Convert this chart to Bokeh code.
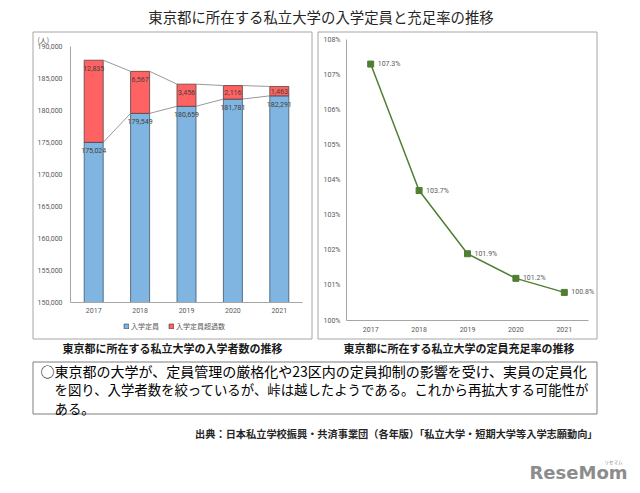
from bokeh.plotting import figure
from bokeh.models import (Range1d, FixedTicker, Legend, LegendItem, ColumnDataSource,
                          GridBox, NumeralTickFormatter, PrintfTickFormatter)
from bokeh.core.properties import value
from bokeh.embed import file_html
from bokeh.resources import INLINE

# ---------------- data ----------------
years = [2017, 2018, 2019, 2020, 2021]
capacity = [175024, 179549, 180659, 181781, 182291]   # 入学定員
excess = [12835, 6567, 3456, 2116, 1463]              # 入学定員超過数
fill_rate = [107.3, 103.7, 101.9, 101.2, 100.8]       # 定員充足率 (%)
left_ticks = [150000, 155000, 160000, 165000, 170000, 175000, 180000, 185000, 190000]
right_ticks = [100, 101, 102, 103, 104, 105, 106, 107, 108]
legend_labels = ["入学定員", "入学定員超過数"]
unit_label = "(人)"

title_text = "東京都に所在する私立大学の入学定員と充足率の推移"
caption_left = "東京都に所在する私立大学の入学者数の推移"
caption_right = "東京都に所在する私立大学の定員充足率の推移"
note_lines = ["○東京都の大学が、定員管理の厳格化や23区内の定員抑制の影響を受け、実員の定員化",
              "を図り、入学者数を絞っているが、峠は越したようである。これから再拡大する可能性が",
              "ある。"]
source_text = "出典：日本私立学校振興・共済事業団（各年版）「私立大学・短期大学等入学志願動向」"
logo_text = "ReseMom"
logo_kana = "リセマム"

JP = "Noto Sans CJK JP"
NUM = "Roboto"
GRAY = "#595959"
BLUE, BLUE_EDGE = "#7fb5e0", "#3e556b"
RED, RED_EDGE = "#ff6262", "#5a4040"


def style_axes(p, tick_out_y, standoff_y, tick_out_x, standoff_x):
    p.xgrid.grid_line_color = None
    p.ygrid.grid_line_color = None
    for ax in (p.xaxis, p.yaxis):
        ax.major_tick_line_color = None
        ax.minor_tick_line_color = None
        ax.axis_line_color = "#a6a6a6"
        ax.major_label_text_font_size = "7px"
        ax.major_label_text_color = GRAY
        ax.major_label_text_font = NUM
    p.yaxis.major_tick_out = tick_out_y
    p.yaxis.major_label_standoff = standoff_y
    p.xaxis.major_tick_out = tick_out_x
    p.xaxis.major_label_standoff = standoff_x


totals = [c + e for c, e in zip(capacity, excess)]
BW = 0.41
Y0, Y1 = 150000, 190000
FRAME_H = 256
upp = (Y1 - Y0) / FRAME_H
red_label_y = [max(t - 8.5 * upp, (t + c) / 2) for t, c in zip(totals, capacity)]
blue_label_y = [c - 8.5 * upp for c in capacity]

src = ColumnDataSource(dict(
    year=years, cap=capacity, total=totals,
    cap_label=[f"{v:,}" for v in capacity],
    ex_label=[f"{v:,}" for v in excess],
    red_y=red_label_y, blue_y=blue_label_y,
))

# ---------------- background page (title, boxes, captions, note, legend) ----------------
pBG = figure(width=640, height=493, x_range=Range1d(0, 640), y_range=Range1d(493, 0),
             x_axis_type=None, y_axis_type=None, min_border=0, toolbar_location=None,
             output_backend="svg", tools="", outline_line_color=None, title=None)
pBG.grid.visible = False
pBG.text(x=[320.5], y=[16], text=[title_text], text_align="center", text_baseline="middle",
         text_font_size="14.4px", text_color="#262626", text_font=value(JP))
pBG.quad(left=[32.5, 317.5], right=[311.5, 596.5], top=[31.5, 31.5], bottom=[338.5, 338.5],
         fill_color=None, line_color="#a6a6a6", line_width=1)
pBG.text(x=[37], y=[39], text=[unit_label], text_align="left", text_baseline="middle",
         text_font_size="7px", text_color=GRAY, text_font=value(JP))
pBG.text(x=[172, 458.5], y=[347, 347], text=[caption_left, caption_right],
         text_align="center", text_baseline="middle", text_font_size="11px",
         text_font_style="bold", text_color="#1a1a1a", text_font=value(JP))
pBG.quad(left=[32.5], right=[596.5], top=[361.5], bottom=[413.5], fill_color=None,
         line_color="#7f7f7f", line_width=1)
note_src = ColumnDataSource(dict(x=[40, 54, 54], y=[370, 388.5, 407], text=note_lines,
                                 size=["14px", "13.4px", "13.4px"]))
pBG.text(x="x", y="y", text="text", text_font_size="size", source=note_src,
         text_align="left", text_baseline="middle",
         text_color="#000000", text_font=value(JP))
pBG.text(x=[597], y=[433], text=[source_text], text_align="right", text_baseline="middle",
         text_font_size="10.2px", text_font_style="bold", text_color="#262626", text_font=value(JP))
pBG.text(x=[627], y=[472], text=[logo_text], text_align="right", text_baseline="middle",
         text_font_size="18px", text_font_style="bold", text_color="#8c8c8c",
         text_font=value("DejaVu Sans"))
pBG.text(x=[613], y=[461], text=[logo_kana], text_align="center", text_baseline="middle",
         text_font_size="4.5px", text_color="#8c8c8c", text_font=value(JP))

# legend swatches: bar renderers styled like the chart bars (their data lie outside this page's range)
lg_blue = pBG.vbar(x="year", top="cap", bottom=Y0, width=BW, source=src,
                   fill_color=BLUE, line_color=BLUE_EDGE, line_width=0.8)
lg_red = pBG.vbar(x="year", top="total", bottom="cap", width=BW, source=src,
                  fill_color=RED, line_color=RED_EDGE, line_width=0.8)
legend = Legend(items=[LegendItem(label=legend_labels[0], renderers=[lg_blue]),
                       LegendItem(label=legend_labels[1], renderers=[lg_red])],
                orientation="horizontal", location=(123, 162),
                glyph_width=6, glyph_height=6, label_height=8, label_standoff=2,
                spacing=9, padding=0, margin=0,
                label_text_font_size="7px", label_text_color=GRAY, label_text_font=JP,
                border_line_color=None, background_fill_alpha=0)
pBG.add_layout(legend)

# ---------------- left chart ----------------
pL = figure(frame_width=232, frame_height=FRAME_H, title=None,
            x_range=Range1d(2016.5, 2021.5), y_range=Range1d(Y0, Y1),
            toolbar_location=None, output_backend="svg", tools="",
            min_border_left=38, min_border_right=10, min_border_top=15, min_border_bottom=37,
            border_fill_color=None, background_fill_color=None, outline_line_color=None)
style_axes(pL, 6, 2, 5, 0)
pL.yaxis.ticker = FixedTicker(ticks=left_ticks)
pL.yaxis.formatter = NumeralTickFormatter(format="0,0")
pL.xaxis.ticker = FixedTicker(ticks=years)

pL.vbar(x="year", width=BW, bottom=Y0, top="cap", source=src,
        fill_color=BLUE, line_color=BLUE_EDGE, line_width=0.8)
pL.vbar(x="year", width=BW, bottom="cap", top="total", source=src,
        fill_color=RED, line_color=RED_EDGE, line_width=0.8)

# series lines between bars
x0 = [y + BW / 2 for y in years[:-1]]
x1 = [y - BW / 2 for y in years[1:]]
pL.segment(x0=x0, y0=totals[:-1], x1=x1, y1=totals[1:], line_color="#7f7f7f", line_width=0.8)
pL.segment(x0=x0, y0=capacity[:-1], x1=x1, y1=capacity[1:], line_color="#7f7f7f", line_width=0.8)

pL.text(x="year", y="blue_y", text="cap_label", source=src,
        text_align="center", text_baseline="middle", text_font_size="7px",
        text_color="#404040", text_font=value(NUM))
pL.text(x="year", y="red_y", text="ex_label", source=src,
        text_align="center", text_baseline="middle", text_font_size="7px",
        text_color="#404040", text_font=value(NUM))

# ---------------- right chart ----------------
rsrc = ColumnDataSource(dict(year=years, rate=fill_rate, label=[f"{v:.1f}%" for v in fill_rate]))
pR = figure(frame_width=242, frame_height=281, title=None,
            x_range=Range1d(2016.5, 2021.5), y_range=Range1d(100, 108),
            toolbar_location=None, output_backend="svg", tools="",
            min_border_left=29, min_border_right=9, min_border_top=15, min_border_bottom=19,
            border_fill_color=None, background_fill_color=None, outline_line_color=None)
style_axes(pR, 6, 0, 6, 0)
pR.yaxis.ticker = FixedTicker(ticks=right_ticks)
pR.yaxis.formatter = PrintfTickFormatter(format="%d%%")
pR.xaxis.ticker = FixedTicker(ticks=years)

pR.line(x="year", y="rate", source=rsrc, line_color="#507e32", line_width=1.5)
pR.scatter(x="year", y="rate", source=rsrc, marker="square", size=6,
           fill_color="#507e32", line_color="#507e32")
pR.text(x="year", y="rate", text="label", source=rsrc, x_offset=7, level="overlay",
        text_align="left", text_baseline="middle", text_font_size="7px",
        text_color=GRAY, text_font=value(NUM))

# ---------------- layout: charts laid over the page ----------------
layout = GridBox(children=[(pBG, 0, 0, 5, 5), (pL, 2, 1, 2, 1), (pR, 1, 3, 3, 1)],
                 rows=["24px", "7px", "301px", "7px", "154px"],
                 cols=["32px", "280px", "5px", "280px", "43px"],
                 spacing=0)

open("out.html", "w").write(file_html(layout, INLINE))
